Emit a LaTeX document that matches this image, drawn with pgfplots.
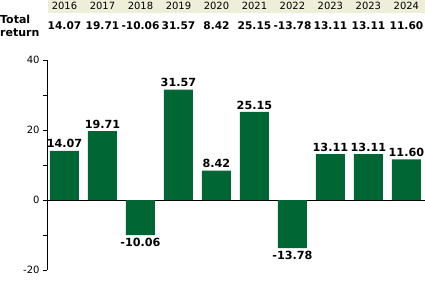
\documentclass[border=0pt]{standalone}
\usepackage{pgfplots}
\pgfplotsset{compat=1.18}
\usepackage{fontspec}
\setmainfont{DejaVu Sans}
\definecolor{bargreen}{HTML}{006633}
\definecolor{hdr}{HTML}{EEEED9}
\begin{document}
\begin{tikzpicture}[x=1bp,y=1bp]
\useasboundingbox (0,0) rectangle (425,-288);
\fill[hdr] (48,0) rectangle (425,-12.5);
\node[anchor=west,font=\bfseries\fontsize{11bp}{12bp}\selectfont,inner sep=0pt] at (0,-19.5) {Total};
\node[anchor=west,font=\bfseries\fontsize{11bp}{12bp}\selectfont,inner sep=0pt] at (0,-32.5) {return};
\begin{axis}[
  at={(47bp,-270bp)}, anchor=south west,
  scale only axis, width=378bp, height=210bp,
  xmin=-0.46, xmax=9.49, ymin=-20, ymax=40,
  ytick={-20,0,20,40}, minor ytick={-10,10,30},
  axis y line*=left, axis x line=none,
  tick align=outside, major tick length=4bp, minor tick length=4bp,
  every tick/.style={black, line width=0.8bp},
  axis line style={black, line width=0.8bp},
  yticklabel style={font=\fontsize{10bp}{12bp}\selectfont},
  /pgf/number format/assume math mode=true,
  xtick=\empty,
  extra y ticks={0}, extra y tick labels={},
  extra y tick style={grid=major, major grid style={black, line width=0.8bp}},
  clip=false,
  ybar, bar width=29bp,
  nodes near coords,
  nodes near coords style={font=\bfseries\fontsize{11.2bp}{12bp}\selectfont, /pgf/number format/fixed, /pgf/number format/fixed zerofill, /pgf/number format/precision=2, inner sep=2.5bp},
]
\addplot[fill=bargreen, draw=none] coordinates {
 (0,14.07) (1,19.71) (2,-10.06) (3,31.57) (4,8.42)
 (5,25.15) (6,-13.78) (7,13.11) (8,13.11) (9,11.60)};
\pgfplotsset{every node/.style={font=\fontsize{8.5bp}{10bp}\selectfont}}
\node at (axis cs:0,55.4) {2016};
\node at (axis cs:1,55.4) {2017};
\node at (axis cs:2,55.4) {2018};
\node at (axis cs:3,55.4) {2019};
\node at (axis cs:4,55.4) {2020};
\node at (axis cs:5,55.4) {2021};
\node at (axis cs:6,55.4) {2022};
\node at (axis cs:7,55.4) {2023};
\node at (axis cs:8,55.4) {2023};
\node at (axis cs:9,55.4) {2024};
\end{axis}
\begin{scope}[every node/.style={font=\bfseries\fontsize{10.6bp}{12bp}\selectfont, inner sep=0pt}]
\node at (64.5,-26) {14.07};
\node at (102.5,-26) {19.71};
\node at (140.5,-26) {-10.06};
\node at (178.5,-26) {31.57};
\node at (216.5,-26) {8.42};
\node at (254.5,-26) {25.15};
\node at (292.5,-26) {-13.78};
\node at (330.5,-26) {13.11};
\node at (368.5,-26) {13.11};
\node at (406.5,-26) {11.60};
\end{scope}
\end{tikzpicture}
\end{document}
